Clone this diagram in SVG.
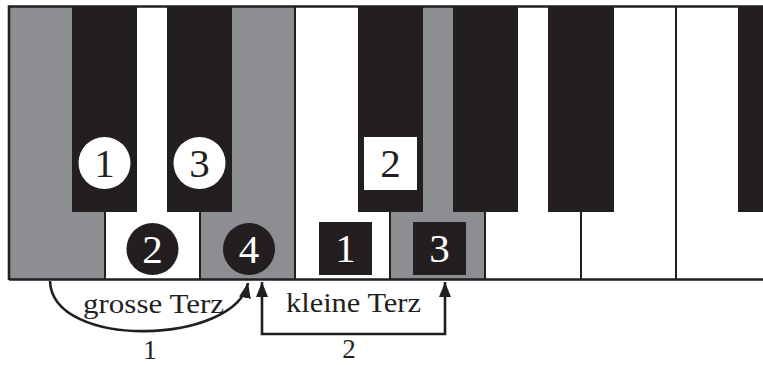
<svg xmlns="http://www.w3.org/2000/svg" width="763" height="365" viewBox="0 0 763 365">
<style>
.white{fill:#ffffff}
.gray{fill:#8d8e92}
.black{fill:#231f20}
.sep{stroke:#231f20;stroke-width:2}
.num{font-family:"Liberation Serif",serif;font-size:41px;text-anchor:middle}
.lbl{font-family:"Liberation Serif",serif;font-size:27px;fill:#231f20}
.conn{fill:none;stroke:#231f20;stroke-width:2.6}
</style>
<defs>
<marker id="ah" markerUnits="userSpaceOnUse" markerWidth="16" markerHeight="12" refX="15" refY="6" orient="auto-start-reverse" viewBox="0 0 16 12">
<path d="M0,0 L15,6 L0,12 Z" fill="#231f20"/>
</marker>
</defs>
<rect x="0" y="0" width="763" height="365" fill="#ffffff"/>
<g id="keyboard">
<g id="white-keys">
<rect class="gray" x="10" y="7" width="95" height="272"/>
<rect class="white" x="105" y="7" width="95" height="272"/>
<rect class="gray" x="200" y="7" width="95" height="272"/>
<rect class="white" x="295" y="7" width="95" height="272"/>
<rect class="gray" x="390" y="7" width="95" height="272"/>
<rect class="white" x="485" y="7" width="95" height="272"/>
<rect class="white" x="580" y="7" width="96" height="272"/>
<rect class="white" x="676" y="7" width="90" height="272"/>
</g>
<g id="separators">
<line class="sep" x1="105" y1="212" x2="105" y2="279"/>
<line class="sep" x1="200" y1="212" x2="200" y2="279"/>
<line class="sep" x1="295" y1="7" x2="295" y2="279"/>
<line class="sep" x1="390" y1="212" x2="390" y2="279"/>
<line class="sep" x1="485" y1="212" x2="485" y2="279"/>
<line class="sep" x1="581" y1="212" x2="581" y2="279"/>
<line class="sep" x1="676" y1="7" x2="676" y2="279"/>
</g>
<g id="black-keys">
<rect class="black" x="72" y="7" width="65" height="205"/>
<rect class="black" x="167" y="7" width="65" height="205"/>
<rect class="black" x="358" y="7" width="65" height="205"/>
<rect class="black" x="453" y="7" width="65" height="205"/>
<rect class="black" x="548" y="7" width="66" height="205"/>
<rect class="black" x="738" y="7" width="30" height="205"/>
</g>
<path d="M9,280 V6.5 H766 M9,279.5 H766" fill="none" stroke="#231f20" stroke-width="2.6"/>
</g>
<g id="m-circle-1">
<circle cx="104.5" cy="163" r="26" fill="#ffffff"/>
<text class="num" x="104.5" y="177" fill="#231f20">1</text>
</g>
<g id="m-circle-3">
<circle cx="199.5" cy="163" r="26" fill="#ffffff"/>
<text class="num" x="199.5" y="177" fill="#231f20">3</text>
</g>
<g id="m-circle-2">
<circle cx="152.5" cy="249" r="26" fill="#231f20"/>
<text class="num" x="152.5" y="263" fill="#ffffff">2</text>
</g>
<g id="m-circle-4">
<circle cx="249" cy="249" r="26" fill="#231f20"/>
<text class="num" x="249" y="263" fill="#ffffff">4</text>
</g>
<g id="m-square-2">
<rect x="364" y="137" width="53" height="53" fill="#ffffff"/>
<text class="num" x="390.5" y="177" fill="#231f20">2</text>
</g>
<g id="m-square-1">
<rect x="319" y="222" width="53" height="53" fill="#231f20"/>
<text class="num" x="345.5" y="262" fill="#ffffff">1</text>
</g>
<g id="m-square-3">
<rect x="413" y="222" width="53" height="53" fill="#231f20"/>
<text class="num" x="439.5" y="262" fill="#ffffff">3</text>
</g>
<g id="connectors">
<path class="conn" d="M50,281 C52,350 235,345 248,283" marker-end="url(#ah)"/>
<path class="conn" d="M262,282 V334 H445 V282" marker-start="url(#ah)" marker-end="url(#ah)"/>
</g>
<g id="labels">
<text class="lbl" x="83" y="313" textLength="141" lengthAdjust="spacingAndGlyphs">grosse Terz</text>
<text class="lbl" x="286" y="312" textLength="135" lengthAdjust="spacingAndGlyphs">kleine Terz</text>
<text class="lbl" x="150" y="359" text-anchor="middle" font-size="28">1</text>
<text class="lbl" x="349" y="358" text-anchor="middle" font-size="28">2</text>
</g>
</svg>
